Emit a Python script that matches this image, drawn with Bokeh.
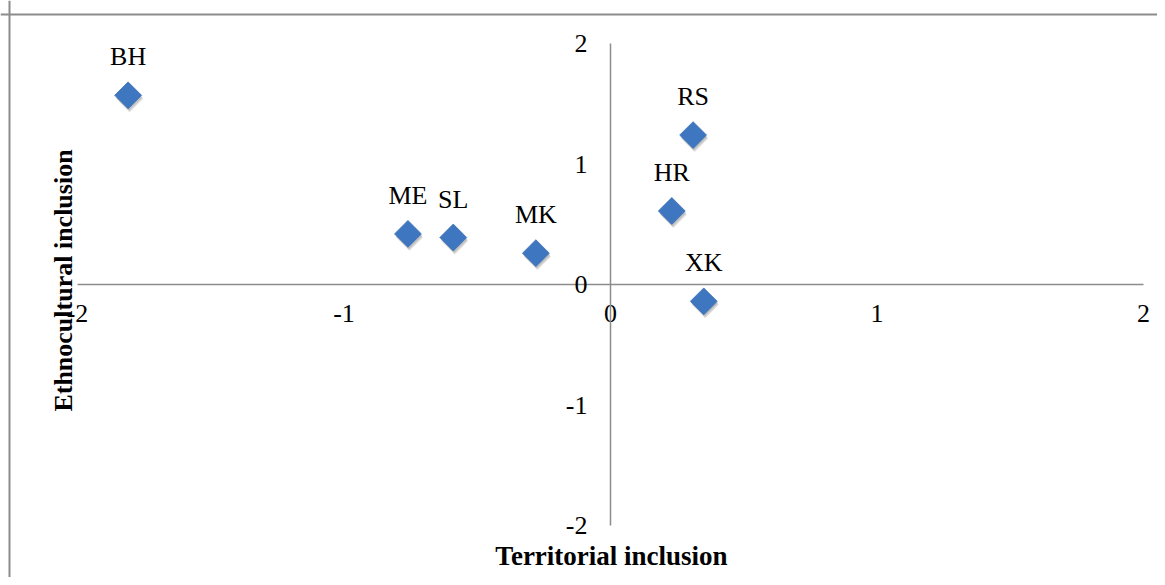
import numpy as np
from bokeh.plotting import figure
from bokeh.models import (ColumnDataSource, LinearAxis, FixedTicker, Range1d,
                          Span, Label, LabelSet, PrintfTickFormatter)
from bokeh.transform import dodge
from bokeh.embed import file_html
from bokeh.resources import INLINE

# ---- data ----
countries = ["BH", "RS", "HR", "XK", "ME", "SL", "MK"]
territorial = [-1.81, 0.31, 0.23, 0.35, -0.76, -0.59, -0.28]
ethnocultural = [1.57, 1.24, 0.61, -0.14, 0.42, 0.39, 0.26]
x_ticks = [-2, -1, 0, 1, 2]
y_ticks = [-2, -1, 0, 1, 2]
x_title = "Territorial inclusion"
y_title = "Ethnocultural inclusion"

# ---- layout (reference pixel geometry) ----
W, H = 1157, 577
PAGE = 0
X0_PX, X_UNIT = 610.0, 266.5
Y0_PX, Y_UNIT = 284.0, 120.5


def px_x(px):
    return (px - X0_PX) / X_UNIT


def px_y(py):
    return (Y0_PX - py) / Y_UNIT


FONT = "Liberation Serif"
AXIS_COLOR = "#8C8C8C"

p = figure(width=W, height=H, output_backend="svg", toolbar_location=None,
           x_range=Range1d(px_x(PAGE), px_x(PAGE + W)),
           y_range=Range1d(px_y(PAGE + H), px_y(PAGE)),
           x_axis_type=None, y_axis_type=None, min_border=0)
p.xgrid.visible = False
p.ygrid.visible = False
p.outline_line_color = None
p.background_fill_color = "white"
p.border_fill_color = "white"

# chart border (top and left edges visible in reference)
p.add_layout(Span(location=px_x(9), dimension="height",
                  line_color=AXIS_COLOR, line_width=2))
p.add_layout(Span(location=px_y(14), dimension="width",
                  line_color=AXIS_COLOR, line_width=2))

# axes crossing at zero
ax = LinearAxis(fixed_location=0, bounds=(-2, 2), ticker=FixedTicker(ticks=x_ticks))
ay = LinearAxis(fixed_location=0, bounds=(-2, 2), ticker=FixedTicker(ticks=y_ticks))
for a in (ax, ay):
    a.formatter = PrintfTickFormatter(format="%d")
    a.axis_line_color = AXIS_COLOR
    a.axis_line_width = 1.5
    a.major_tick_line_color = None
    a.minor_tick_line_color = None
    a.major_tick_in = 0
    a.major_tick_out = 0
    a.minor_tick_in = 0
    a.minor_tick_out = 0
    a.major_label_text_font = FONT
    a.major_label_text_font_size = "26px"
    a.major_label_text_color = "black"
ax.major_label_standoff = 20
ay.major_label_standoff = 23
p.add_layout(ax, "below")
p.add_layout(ay, "left")

src = ColumnDataSource(dict(x=territorial, y=ethnocultural, name=countries))

# soft shadow
p.scatter(x=dodge("x", 1.5 / X_UNIT), y=dodge("y", -3.5 / Y_UNIT), source=src,
          marker="square", size=19, angle=np.pi / 4,
          fill_color="#444444", fill_alpha=0.18, line_color=None)
p.scatter(x=dodge("x", 1.0 / X_UNIT), y=dodge("y", -2.0 / Y_UNIT), source=src,
          marker="square", size=19, angle=np.pi / 4,
          fill_color="#444444", fill_alpha=0.18, line_color=None)
# markers
p.scatter(x="x", y="y", source=src, marker="square", size=19, angle=np.pi / 4,
          fill_color="#3E77C0", line_color="#3A6FB5", line_width=0.8)

labels = LabelSet(x="x", y="y", text="name", source=src, y_offset=30,
                  text_align="center", text_baseline="alphabetic",
                  text_font=FONT, text_font_size="26px", text_color="black")
p.add_layout(labels)

p.add_layout(Label(x=px_x(611), y=px_y(555), text=x_title,
                   text_align="center", text_baseline="alphabetic",
                   text_font=FONT, text_font_size="27px", text_font_style="bold",
                   text_color="black"))
p.add_layout(Label(x=px_x(63), y=px_y(280), text=y_title, angle=np.pi / 2,
                   text_align="center", text_baseline="alphabetic",
                   text_font=FONT, text_font_size="26px", text_font_style="bold",
                   text_color="black"))

open("out.html", "w").write(file_html(p, INLINE))
